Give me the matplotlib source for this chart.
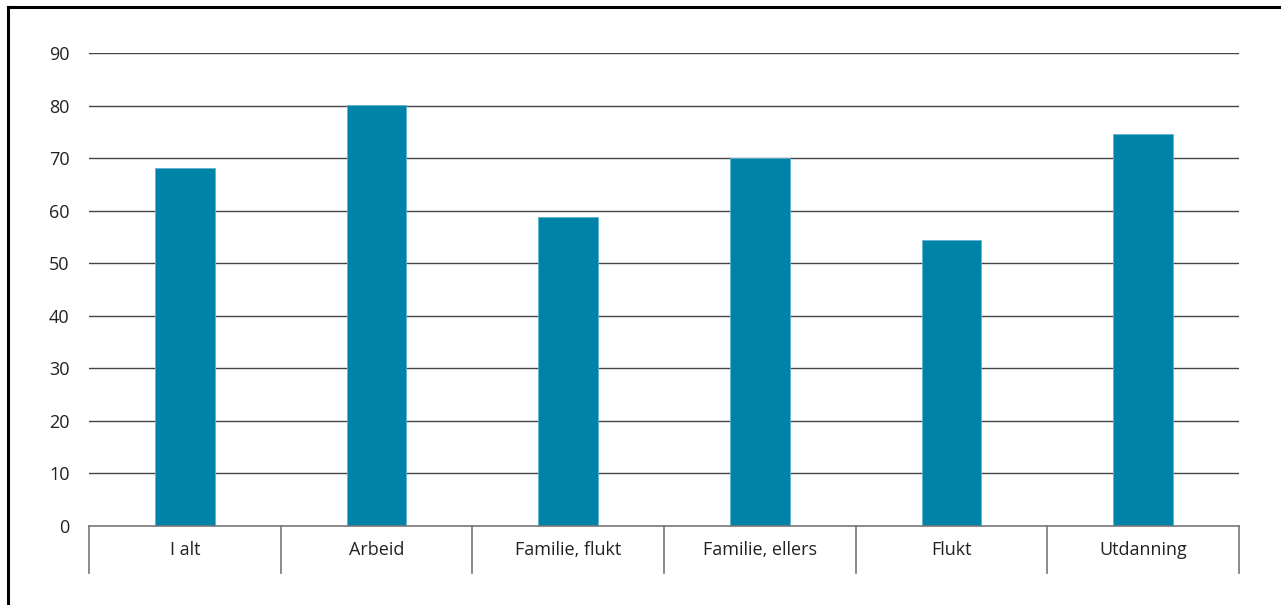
import matplotlib
matplotlib.use("Agg")
import matplotlib.pyplot as plt
from matplotlib.lines import Line2D
import numpy as np

categories = ["I alt", "Arbeid", "Familie, flukt", "Familie, ellers", "Flukt", "Utdanning"]
values = [68.2, 80.2, 58.8, 70.1, 54.4, 74.5]
yticks = [0, 10, 20, 30, 40, 50, 60, 70, 80, 90]

plt.rcParams['font.family'] = ['Open Sans', 'DejaVu Sans']

W, H = 1281, 605
fig = plt.figure(figsize=(W / 100, H / 100), dpi=100)
x0, x1 = 89, 1239
y0, y1 = 526, 53
ax = fig.add_axes([x0 / W, (H - y0) / H, (x1 - x0) / W, (y0 - y1) / H])

x = np.arange(len(categories))
ax.bar(x, values, width=0.313, color="#0083a9", edgecolor="#5fb3cc", linewidth=0.6, zorder=3)

ax.set_ylim(0, 90)
ax.set_xlim(-0.5, len(categories) - 0.5)
ax.set_yticks(yticks)
ax.set_yticklabels([str(t) for t in yticks], fontsize=13, color="#222222")
ax.tick_params(axis="y", length=0, pad=14)
for t in yticks[1:]:
    ax.axhline(t, color="#444444", linewidth=1.0, zorder=1)

ax.set_xticks(x)
ax.set_xticklabels(categories, fontsize=13, color="#222222")
ax.tick_params(axis="x", length=0, pad=11)

for s in ["top", "right", "left"]:
    ax.spines[s].set_visible(False)
ax.spines["bottom"].set_color("#777777")
ax.spines["bottom"].set_linewidth(1.2)
ax.spines["bottom"].set_zorder(4)

sep_len = 47 / (y0 - y1)
trans = ax.get_xaxis_transform()
for b in np.arange(-0.5, len(categories), 1.0):
    ax.add_line(Line2D([b, b], [0, -sep_len], transform=trans, color="#777777",
                       linewidth=1.2, clip_on=False))

# outer frame (left and top edges)
fig.add_artist(Line2D([7.5 / W, 7.5 / W], [0, 1 - 6.5 / H], transform=fig.transFigure,
                      color="black", linewidth=2.2))
fig.add_artist(Line2D([7.5 / W, 1], [1 - 6.5 / H, 1 - 6.5 / H], transform=fig.transFigure,
                      color="black", linewidth=2.2))

fig.savefig("out.png", dpi=100, facecolor="white")
